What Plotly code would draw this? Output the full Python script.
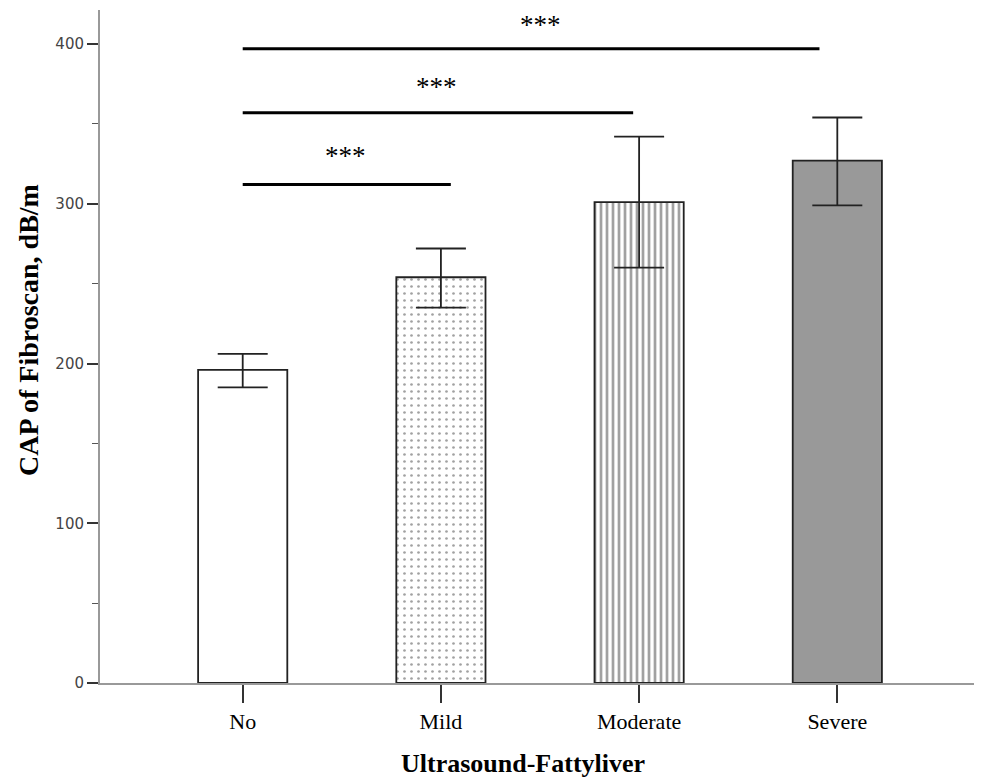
import plotly.graph_objects as go

categories = ["No", "Mild", "Moderate", "Severe"]
means = [196, 254, 301, 327]
err_plus = [10, 18, 41, 27]
err_minus = [11, 19, 41, 28]

sig_start = [0.0, 0.0, 0.0]
sig_end = [1.05, 1.97, 2.91]
sig_y = [312, 357, 397]
sig_label = ["***", "***", "***"]
star_x = [0.52, 0.98, 1.5]
star_y = [330, 373, 412]

fills = ["white", "white", "white", "#999999"]
shapes = ["", ".", "|", ""]

fig = go.Figure()
xs = list(range(len(categories)))
fig.add_trace(go.Bar(
    x=xs, y=means, width=0.45,
    marker=dict(
        color=fills,
        line=dict(color="#222222", width=1.8),
        pattern=dict(shape=shapes, fgcolor=["#000", "#555555", "#555555", "#000"],
                     size=[8, 7, 6, 8], solidity=[0.3, 0.12, 0.45, 0.3]),
    ),
    error_y=dict(type="data", symmetric=False, array=err_plus, arrayminus=err_minus,
                 color="#222222", thickness=1.8, width=25),
    showlegend=False,
))

for s, e, y in zip(sig_start, sig_end, sig_y):
    fig.add_trace(go.Scatter(x=[s, e], y=[y, y], mode="lines",
                             line=dict(color="black", width=3), showlegend=False,
                             hoverinfo="skip"))

for x, y, t in zip(star_x, star_y, sig_label):
    fig.add_annotation(x=x, y=y, text=t, showarrow=False,
                       font=dict(family="Liberation Serif", size=27, color="black"))

fig.add_annotation(text="<b>CAP of Fibroscan, dB/m</b>", textangle=-90,
                   xref="paper", yref="paper", x=0, y=0.5245, xanchor="center",
                   yanchor="middle", xshift=-72, showarrow=False,
                   font=dict(family="Liberation Serif", size=28, color="black"))
fig.add_annotation(text="<b>Ultrasound-Fattyliver</b>",
                   xref="paper", yref="paper", x=0.48, y=0, xanchor="center",
                   yanchor="middle", yshift=-80, showarrow=False,
                   font=dict(family="Liberation Serif", size=26, color="black"))

fig.update_layout(
    width=974, height=774,
    margin=dict(l=92, r=0, t=2, b=99),
    paper_bgcolor="white", plot_bgcolor="white",
    xaxis=dict(
        range=[-0.72, 3.73], tickmode="array", tickvals=xs, ticktext=categories,
        showline=True, linecolor="#999999", linewidth=2, showgrid=False, zeroline=False,
        ticks="outside", ticklen=18, tickwidth=1.5, tickcolor="#333333",
        tickfont=dict(family="Liberation Serif", size=22, color="black"),
        automargin=False,
    ),
    yaxis=dict(
        range=[0, 421.3], tickvals=[0, 100, 200, 300, 400],
        showline=True, linecolor="#999999", linewidth=2, showgrid=False, zeroline=False,
        ticks="outside", ticklen=11, tickwidth=1.5, tickcolor="#333333",
        tickfont=dict(family="DejaVu Sans", size=15, color="#444444"),
        minor=dict(tickvals=[50, 150, 250, 350], ticks="outside", ticklen=6,
                   tickwidth=1.2, tickcolor="#555555"),
        automargin=False,
    ),
)

fig.write_html("out.html")
